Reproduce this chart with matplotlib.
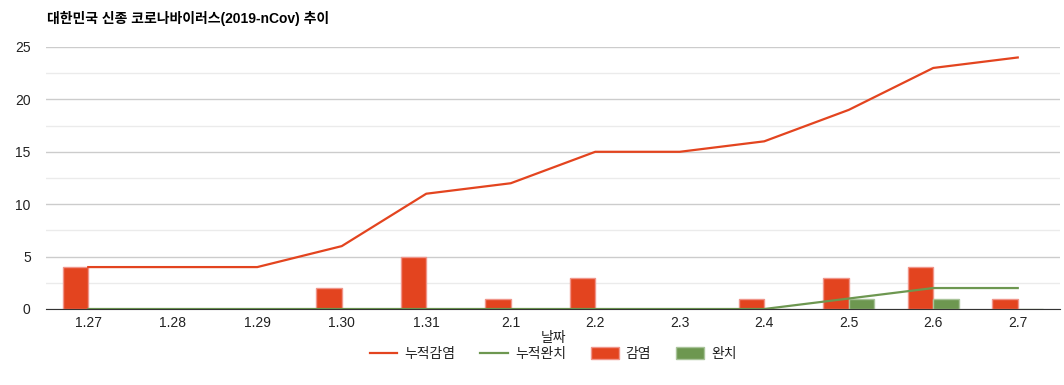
import numpy as np
import matplotlib
matplotlib.use('Agg')
import matplotlib.pyplot as plt
from matplotlib.lines import Line2D
from matplotlib.patches import Patch

plt.rcParams['font.family'] = ['Liberation Sans', 'Noto Sans CJK KR', 'DejaVu Sans']

dates = ['1.27', '1.28', '1.29', '1.30', '1.31', '2.1', '2.2', '2.3', '2.4', '2.5', '2.6', '2.7']
cum_infected = [4, 4, 4, 6, 11, 12, 15, 15, 16, 19, 23, 24]
cum_recovered = [0, 0, 0, 0, 0, 0, 0, 0, 0, 1, 2, 2]
infected = [4, 0, 0, 2, 5, 1, 3, 0, 1, 3, 4, 1]
recovered = [0, 0, 0, 0, 0, 0, 0, 0, 0, 1, 1, 0]

red = '#e3441f'
red_edge = '#f0958a'
green = '#6d9750'
green_edge = '#a9c49a'

fig = plt.figure(figsize=(10.64, 3.85), dpi=100)
ax = fig.add_axes([46 / 1064, 1 - 309 / 385, 1014 / 1064, 262 / 385])

x = np.arange(len(dates))
w = 0.3
ax.bar(x - w / 2, infected, w, color=red, edgecolor=red_edge, linewidth=1, zorder=3)
ax.bar(x + w / 2, recovered, w, color=green, edgecolor=green_edge, linewidth=1, zorder=3)
ax.plot(x, cum_infected, color=red, lw=1.6, zorder=4)
ax.plot(x, cum_recovered, color=green, lw=1.6, zorder=4)

ax.set_xlim(-0.5, len(dates) - 0.5)
ax.set_ylim(0, 25)
ax.set_yticks([0, 5, 10, 15, 20, 25])
ax.set_yticks([2.5, 7.5, 12.5, 17.5, 22.5], minor=True)
ax.grid(axis='y', which='major', color='#cccccc', lw=1, zorder=0)
ax.grid(axis='y', which='minor', color='#ebebeb', lw=1, zorder=0)
ax.set_xticks(x)
ax.set_xticklabels(dates)
ax.tick_params(axis='both', which='both', length=0, labelsize=10, colors='#222222')
ax.tick_params(axis='y', pad=11)
ax.tick_params(axis='x', pad=5)
for s in ['top', 'right', 'left']:
    ax.spines[s].set_visible(False)
ax.spines['bottom'].set_color('#333333')
ax.spines['bottom'].set_zorder(5)

# x axis title sits between the tick labels and the legend
fig.text(553 / 1064, 1 - 338 / 385, '날짜', fontsize=10, style='italic',
         color='#222222', ha='center', va='center')

fig.text(47 / 1064, 1 - 18 / 385, '대한민국 신종 코로나바이러스(2019-nCov) 추이',
         fontsize=10, fontweight='bold', color='#000000', va='center')

handles = [
    Line2D([0], [0], color=red, lw=1.6),
    Line2D([0], [0], color=green, lw=1.6),
    Patch(facecolor=red, edgecolor=red_edge),
    Patch(facecolor=green, edgecolor=green_edge),
]
labels = ['누적감염', '누적완치', '감염', '완치']
fig.legend(handles, labels, loc='center', bbox_to_anchor=(553 / 1064, 1 - 354 / 385),
           ncol=4, frameon=False, fontsize=10, handlelength=2.0, handleheight=1.0,
           handletextpad=0.5, columnspacing=1.8, labelcolor='#222222')

fig.savefig('out.png', dpi=100)
